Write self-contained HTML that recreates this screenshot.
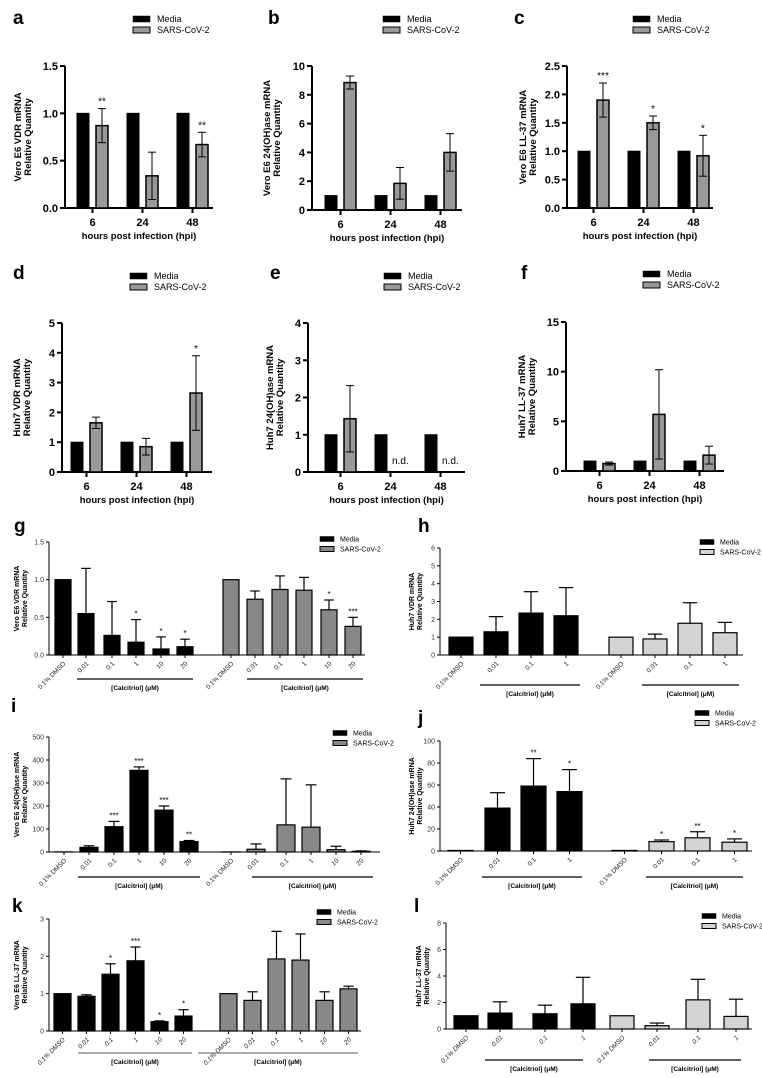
<!DOCTYPE html>
<html><head><meta charset="utf-8">
<style>
html,body{margin:0;padding:0;background:#fff;}
svg{display:block;font-family:"Liberation Sans",Arial,sans-serif;}
</style></head>
<body>
<svg id="s" width="762" height="1078" viewBox="0 0 762 1078" xmlns="http://www.w3.org/2000/svg"></svg>
<script>
(function(){
let S='';
function L(x1,y1,x2,y2,w,c){S+=`<line x1="${x1}" y1="${y1}" x2="${x2}" y2="${y2}" stroke="${c||'#000'}" stroke-width="${w||1}"/>`;}
function T(x,y,s,a,fs,b,extra){S+=`<text x="${x}" y="${y}" font-size="${fs}" text-anchor="${a||'start'}" ${b?'font-weight="bold"':''} ${extra||''}>${s}</text>`;}
function R(x,y,w,h,f,sw){S+=`<rect x="${x}" y="${y}" width="${w}" height="${h}" fill="${f}" stroke="#000" stroke-width="${sw||1}"/>`;}
function legend(x,y1,y2,fill,fs,sw,sh,tx){R(x,y1-sh/2,sw,sh,'#000',0.5);R(x,y2-sh/2,sw,sh,fill,1);T(tx,y1+fs*0.35,'Media','start',fs);T(tx,y2+fs*0.35,'SARS-CoV-2','start',fs);}
function ylab(x,y,l1,l2,fs,gap){S+=`<g transform="translate(${x},${y}) rotate(-90)"><text x="0" y="0" font-size="${fs}" font-weight="bold" text-anchor="middle">${l1}</text><text x="0" y="${gap}" font-size="${fs}" font-weight="bold" text-anchor="middle">${l2}</text></g>`;}

function drawTop(o){
 const sy=v=>o.y0-v/o.max*(o.y0-o.y1);
 L(o.ax,o.y1,o.ax,o.y0,2);L(o.ax,o.y0,o.xe,o.y0,2);
 o.ticks.forEach((tv,i)=>{const y=sy(tv);L(o.ax-5,y,o.ax,y,2);T(o.ax-7,y+4,o.fmt[i],'end',11,1);});
 const lab=['6','24','48'];
 for(let g=0;g<3;g++){
  const mx=o.bx+g*50, sx=mx+19;
  R(mx,sy(1),12,o.y0-sy(1),'#000',1);
  const cx=mx+15.5; L(cx,o.y0,cx,o.y0+5,2); T(cx,o.y0+18,lab[g],'middle',11,1);
  const d=o.d[g];
  if(d===null){T(sx-2,o.y0-8,'n.d.','start',10,0);continue;}
  const v=d[0],e=d[1];
  R(sx,sy(v),12,o.y0-sy(v),'#999',1.5);
  const c=sx+6,lo=sy(Math.max(0,v-e));L(c,sy(v+e),c,lo,1);L(c-4,sy(v+e),c+4,sy(v+e),1);L(c-4,lo,c+4,lo,1);
  if(d[2])T(c,sy(v+e)-4,d[2],'middle',10,0);
 }
 T((o.ax+o.xe)/2,o.y0+31,'hours post infection (hpi)','middle',9.5,1);
 ylab(o.ylx,(o.y0+o.y1)/2,o.l1,o.l2,9.5,10);
 T(o.lx,o.ly,o.L,'start',19,1);
 legend(o.legx,o.legy,o.legy+11,'#999',9,17,6,o.legx+24);
}
drawTop({ax:65,y0:208,y1:66,max:1.5,ticks:[0,.5,1,1.5],fmt:['0.0','0.5','1.0','1.5'],xe:213,bx:77,d:[[0.87,0.18,'**'],[0.34,0.25],[0.67,0.13,'**']],ylx:21,l1:'Vero E6 VDR mRNA',l2:'Relative Quantity',lx:13,ly:24,L:'a',legx:133,legy:19});
drawTop({ax:312,y0:210,y1:66,max:10,ticks:[0,2,4,6,8,10],fmt:['0','2','4','6','8','10'],xe:462,bx:325,d:[[8.85,0.45],[1.85,1.1],[4.0,1.3]],ylx:270,l1:'Vero E6 24(OH)ase mRNA',l2:'Relative Quantity',lx:268,ly:24,L:'b',legx:383,legy:19});
drawTop({ax:567,y0:208,y1:66,max:2.5,ticks:[0,.5,1,1.5,2,2.5],fmt:['0.0','0.5','1.0','1.5','2.0','2.5'],xe:713,bx:578,d:[[1.9,0.3,'***'],[1.5,0.12,'*'],[0.92,0.36,'*']],ylx:526,l1:'Vero E6 LL-37 mRNA',l2:'Relative Quantity',lx:514,ly:24,L:'c',legx:633,legy:19});
drawTop({ax:62,y0:472,y1:323,max:5,ticks:[0,1,2,3,4,5],fmt:['0','1','2','3','4','5'],xe:212,bx:71,d:[[1.65,0.19],[0.85,0.28],[2.65,1.25,'*']],ylx:20,l1:'Huh7 VDR mRNA',l2:'Relative Quantity',lx:13,ly:279,L:'d',legx:130,legy:276});
drawTop({ax:308,y0:472,y1:323,max:4,ticks:[0,1,2,3,4],fmt:['0','1','2','3','4'],xe:465,bx:325,d:[[1.43,0.89],null,null],ylx:273,l1:'Huh7 24(OH)ase mRNA',l2:'Relative Quantity',lx:270,ly:279,L:'e',legx:384,legy:276});
drawTop({ax:566,y0:471,y1:322,max:15,ticks:[0,5,10,15],fmt:['0','5','10','15'],xe:724,bx:584,d:[[0.75,0.15],[5.7,4.5],[1.6,0.9]],ylx:525,l1:'Huh7 LL-37 mRNA',l2:'Relative Quantity',lx:521,ly:279,L:'f',legx:643,legy:274});

function bot(o){
 const sy=v=>o.y0-v/o.max*(o.y0-o.y1);
 L(o.ax,o.y1,o.ax,o.y0,1);L(o.ax,o.y0,o.xe,o.y0,1);
 o.ticks.forEach(tv=>{const y=sy(tv);L(o.ax-3,y,o.ax,y,1);T(o.ax-5,y+2.5,o.tf?o.tf(tv):tv,'end',7,0,'fill="#333"');});
 o.bars.forEach((b,i)=>{
  const x=b[0],v=b[1],tp=b[2],star=b[3],lab=b[4]; const fill=i<o.n?'#000':o.gc;
  R(x,sy(v),o.w,o.y0-sy(v),fill,1.2);
  const c=x+o.w/2;
  if(tp!=null&&tp>v){L(c,sy(tp),c,sy(v),1.2);L(c-o.w*0.3,sy(tp),c+o.w*0.3,sy(tp),1.2);}
  if(star)T(c,sy(tp!=null?tp:v)-3,star,'middle',8,0);
  L(c,o.y0,c,o.y0+3,1);
  S+=`<text transform="translate(${c+3},${o.y0+9}) rotate(-45)" font-size="6.5" text-anchor="end" fill="#222" font-style="${o.it?'italic':'normal'}">${lab}</text>`;
 });
 o.ul.forEach(u=>{L(u[0],o.uy,u[1],o.uy,1.2,o.uc||'#000');T((u[0]+u[1])/2,o.uy+11,'[Calcitriol] (μM)','middle',6.5,1);});
 ylab(o.ylx,(o.y0+o.y1)/2,o.l1,o.l2,7,8);
 T(o.lx,o.ly,o.L,'start',19,1);
 legend(o.legx,o.legy,o.legy+10,o.gc,7,14,5,o.legx+20);
}
const lg=['0.1% DMSO','0.01','0.1','1','10','20'], ls=['0.1% DMSO','0.01','0.1','1'];
function six(xs,vals){return xs.map((x,i)=>[x,vals[i][0],vals[i][1],vals[i][2],lg[i%6]]);}
function four(xs,vals){return xs.map((x,i)=>[x,vals[i][0],vals[i][1],vals[i][2],ls[i%4]]);}
bot({ax:49,y0:655,y1:542,max:1.5,ticks:[0,.5,1,1.5],tf:v=>v.toFixed(1),xe:365,w:16,n:6,gc:'#888',
 bars:six([55,78,104,128,153,177,223,247,272,296,321,345],[[1],[0.55,1.15],[0.26,0.71],[0.17,0.47,'*'],[0.08,0.24,'*'],[0.11,0.21,'*'],[1],[0.74,0.85],[0.87,1.05],[0.86,1.03],[0.6,0.73,'*'],[0.38,0.5,'***']]),
 ul:[[77,193],[247,363]],uy:679,ylx:19,l1:'Vero  E6 VDR mRNA',l2:'Relative Quantity',lx:14,ly:532,L:'g',legx:320,legy:539});
bot({ax:440,y0:655,y1:548,max:6,ticks:[0,1,2,3,4,5,6],xe:743,w:24,n:4,gc:'#d3d3d3',
 bars:four([449,484,519,554,609,643,678,713],[[1],[1.3,2.15],[2.35,3.55],[2.2,3.78],[1],[0.9,1.17],[1.78,2.93],[1.25,1.83]]),
 ul:[[480,580],[642,739]],uy:685,ylx:414,l1:'Huh7 VDR mRNA',l2:'Relative Quantity',lx:418,ly:532,L:'h',legx:700,legy:542});
bot({ax:49,y0:852,y1:737,max:500,ticks:[0,100,200,300,400,500],xe:380,w:18,n:6,gc:'#888',
 bars:six([55,80,105,130,155,180,222,247,277,302,327,352],[[0.5],[20,27],[110,133,'***'],[355,370,'***'],[182,200,'***'],[45,50,'**'],[0.5],[12,35],[118,318],[108,292],[10,25],[3,5]]),
 ul:[[78,200],[252,373]],uy:877,ylx:19,l1:'Vero E6 24(OH)ase mRNA',l2:'Relative Quantity',lx:11,ly:712,L:'i',legx:333,legy:733});
bot({ax:440,y0:851,y1:741,max:100,ticks:[0,20,40,60,80,100],xe:752,w:25,n:4,gc:'#d3d3d3',
 bars:four([448,485,521,557,612,649,685,722],[[0.5],[39,53],[59,84,'**'],[54,74,'*'],[0.5],[8.5,10,'*'],[12,17.5,'**'],[8,11,'*']]),
 ul:[[482,582],[646,743]],uy:877,ylx:414,l1:'Huh7 24(OH)ase mRNA',l2:'Relative Quantity',lx:418,ly:724,L:'j',legx:695,legy:713});
bot({ax:49,y0:1031,y1:919,max:3,ticks:[0,1,2,3],xe:361,w:17,n:6,gc:'#888',it:1,
 bars:six([54,78,102,127,151,175,220,244,268,292,316,340],[[1],[0.93,0.97],[1.52,1.8,'*'],[1.88,2.25,'***'],[0.25,0.27,'*'],[0.4,0.57,'*'],[1],[0.82,1.05],[1.93,2.67],[1.9,2.6],[0.82,1.05],[1.13,1.2]]),
 ul:[[78,192],[198,358]],uc:'#777',uy:1053,ylx:19,l1:'Vero E6 LL-37 mRNA',l2:'Relative Quantity',lx:12,ly:912,L:'k',legx:317,legy:912});
bot({ax:446,y0:1029,y1:923,max:8,ticks:[0,2,4,6,8],xe:752,w:24,n:4,gc:'#d3d3d3',it:1,
 bars:four([454,488,533,571,610,645,686,724],[[1],[1.2,2.05],[1.15,1.8],[1.9,3.9],[1],[0.25,0.45],[2.2,3.75],[0.95,2.25]]),
 ul:[[485,583],[649,741]],uy:1060,ylx:421,l1:'Huh7 LL-37 mRNA',l2:'Relative Quantity',lx:414,ly:912,L:'l',legx:702,legy:916});
document.getElementById('s').innerHTML=S;
})();
</script>
</body></html>
